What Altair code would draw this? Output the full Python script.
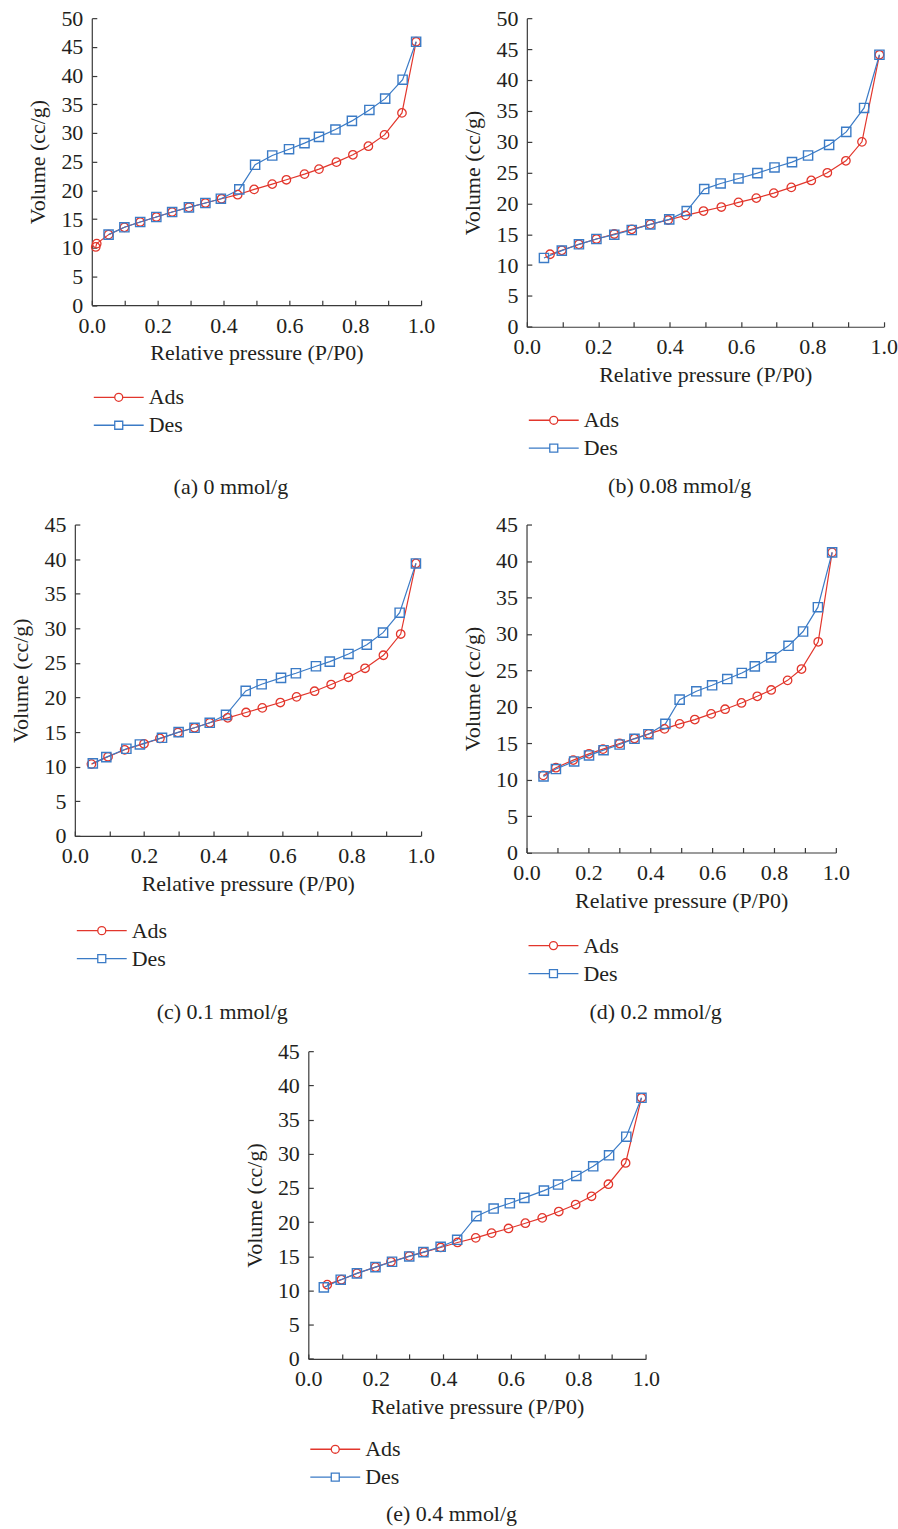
import altair as alt
import pandas as pd

# ---------------- data ----------------
A_ADS_X = [0.012, 0.015, 0.051, 0.099, 0.147, 0.196, 0.244, 0.295, 0.345, 0.394, 0.443,
           0.493, 0.548, 0.591, 0.646, 0.690, 0.743, 0.793, 0.840, 0.889, 0.942, 0.985]
A_ADS_Y = [10.14, 10.72, 12.28, 13.56, 14.48, 15.35, 16.22, 17.03, 17.79, 18.54, 19.24,
           20.16, 21.09, 21.84, 22.83, 23.70, 24.91, 26.19, 27.69, 29.66, 33.49, 45.89]
A_DES_X = [0.985, 0.944, 0.891, 0.843, 0.790, 0.740, 0.690, 0.646, 0.599, 0.548, 0.496,
           0.448, 0.392, 0.345, 0.295, 0.244, 0.196, 0.147, 0.099, 0.051]
A_DES_Y = [45.89, 39.28, 35.98, 34.01, 32.10, 30.59, 29.32, 28.22, 27.17, 26.07, 24.45,
           20.16, 18.54, 17.79, 17.03, 16.22, 15.35, 14.48, 13.56, 12.28]

B_ADS_X = [0.065, 0.098, 0.146, 0.195, 0.245, 0.294, 0.346, 0.396, 0.445, 0.495, 0.545,
           0.593, 0.643, 0.692, 0.741, 0.797, 0.842, 0.894, 0.939, 0.988]
B_ADS_Y = [11.75, 12.39, 13.36, 14.22, 15.03, 15.79, 16.59, 17.30, 18.05, 18.75, 19.40,
           20.15, 20.85, 21.66, 22.58, 23.71, 24.95, 26.89, 29.96, 44.07]
B_DES_X = [0.988, 0.945, 0.895, 0.847, 0.788, 0.743, 0.694, 0.646, 0.593, 0.543, 0.497,
           0.448, 0.399, 0.346, 0.294, 0.245, 0.195, 0.146, 0.098, 0.048]
B_DES_Y = [44.07, 35.45, 31.57, 29.47, 27.75, 26.67, 25.81, 24.89, 24.03, 23.22, 22.31,
           18.75, 17.40, 16.59, 15.68, 14.92, 14.22, 13.36, 12.34, 11.15]

C_ADS_X = [0.048, 0.096, 0.144, 0.200, 0.246, 0.298, 0.346, 0.390, 0.442, 0.495, 0.542,
           0.594, 0.641, 0.693, 0.741, 0.791, 0.839, 0.892, 0.942, 0.986]
C_ADS_Y = [10.38, 11.44, 12.45, 13.32, 14.09, 14.95, 15.63, 16.35, 17.07, 17.84, 18.51,
           19.28, 20.10, 20.91, 21.88, 22.93, 24.23, 26.11, 29.18, 39.38]
C_DES_X = [0.986, 0.939, 0.891, 0.844, 0.791, 0.737, 0.697, 0.639, 0.596, 0.540, 0.494,
           0.437, 0.390, 0.346, 0.300, 0.252, 0.188, 0.149, 0.091, 0.052]
C_DES_Y = [39.38, 32.26, 29.38, 27.64, 26.30, 25.19, 24.52, 23.51, 22.84, 21.92, 20.96,
           17.50, 16.35, 15.63, 15.00, 14.18, 13.22, 12.60, 11.39, 10.48]

D_ADS_X = [0.054, 0.095, 0.151, 0.202, 0.247, 0.301, 0.349, 0.395, 0.446, 0.495, 0.544,
           0.597, 0.642, 0.695, 0.746, 0.791, 0.844, 0.889, 0.943, 0.988]
D_ADS_Y = [10.58, 11.63, 12.68, 13.54, 14.18, 14.96, 15.64, 16.28, 16.96, 17.65, 18.24,
           19.02, 19.66, 20.52, 21.43, 22.30, 23.62, 25.17, 28.91, 41.18]
D_DES_X = [0.988, 0.942, 0.894, 0.847, 0.791, 0.738, 0.696, 0.649, 0.600, 0.549, 0.495,
           0.449, 0.394, 0.349, 0.301, 0.249, 0.202, 0.154, 0.095, 0.055]
D_DES_Y = [41.18, 33.66, 30.32, 28.36, 26.77, 25.54, 24.63, 23.80, 22.94, 22.12, 20.98,
           17.65, 16.23, 15.60, 14.82, 14.04, 13.32, 12.49, 11.45, 10.44]

E_ADS_X = [0.056, 0.098, 0.144, 0.199, 0.245, 0.299, 0.343, 0.392, 0.442, 0.496, 0.543,
           0.593, 0.643, 0.693, 0.742, 0.792, 0.839, 0.889, 0.940, 0.987]
E_ADS_Y = [10.85, 11.58, 12.50, 13.42, 14.20, 15.03, 15.61, 16.29, 17.02, 17.70, 18.39,
           19.07, 19.84, 20.62, 21.55, 22.57, 23.78, 25.54, 28.65, 38.18]
E_DES_X = [0.987, 0.942, 0.891, 0.844, 0.794, 0.740, 0.698, 0.640, 0.597, 0.549, 0.498,
           0.441, 0.392, 0.341, 0.299, 0.248, 0.199, 0.144, 0.096, 0.046]
E_DES_Y = [38.18, 32.49, 29.77, 28.16, 26.75, 25.49, 24.61, 23.54, 22.76, 21.98, 20.87,
           17.41, 16.39, 15.61, 14.98, 14.20, 13.42, 12.50, 11.58, 10.46]

SERIES = ["Ads", "Des"]
CAPTIONS = ["(a) 0 mmol/g", "(b) 0.08 mmol/g", "(c) 0.1 mmol/g", "(d) 0.2 mmol/g", "(e) 0.4 mmol/g"]
X_LABELS = [0.0, 0.2, 0.4, 0.6, 0.8, 1.0]
X_TICKS = [0.0, 0.1, 0.2, 0.3, 0.4, 0.5, 0.6, 0.7, 0.8, 0.9, 1.0]

# ---------------- style ----------------
FONT = "Liberation Serif"
TXT = "#231f20"
AXC = "#3a3a3a"
RED = "#e2362c"
BLUE = "#3b7bc6"
FS = 22

K = 0.5523
PATH_CIRCLE = ("M-6.25,0L-1,0M1,0L6.25,0"
               f"M1,0C1,{K},{K},1,0,1C-{K},1,-1,{K},-1,0C-1,-{K},-{K},-1,0,-1C{K},-1,1,-{K},1,0Z")
PATH_SQUARE = "M-6.25,0L-1,0M1,0L6.25,0M-1,-1L1,-1L1,1L-1,1Z"


def panel(ads_x, ads_y, des_x, des_y, ymax, w, h, caption, legend_y, cap_offset):
    df = pd.DataFrame({
        "p": ads_x + des_x,
        "v": ads_y + des_y,
        "s": [SERIES[0]] * len(ads_x) + [SERIES[1]] * len(des_x),
    })
    xs = alt.Scale(domain=[0, 1], nice=False, zero=False)
    ys = alt.Scale(domain=[0, ymax], nice=False)
    y_vals = list(range(0, ymax + 1, 5))

    main_x = alt.Axis(values=X_LABELS, format=".1f", ticks=False, tickSize=0, labelPadding=10,
                      labelFlush=False, labelOverlap=False,
                      title="Relative pressure (P/P0)", titlePadding=7, grid=False,
                      domainColor=AXC, domainWidth=1.2)
    main_y = alt.Axis(values=y_vals, ticks=False, tickSize=0, labelPadding=9,
                      labelFlush=False, labelOverlap=False,
                      title="Volume (cc/g)", titlePadding=11, grid=False,
                      domainColor=AXC, domainWidth=1.2)
    tick_x = alt.Axis(values=X_TICKS, labels=False, domain=False, ticks=True, tickSize=5,
                      offset=-5, orient="bottom", title=None, grid=False,
                      tickColor=AXC, tickWidth=1.2)
    tick_y = alt.Axis(values=y_vals, labels=False, domain=False, ticks=True, tickSize=5,
                      offset=-5, orient="left", title=None, grid=False,
                      tickColor=AXC, tickWidth=1.2)

    base = alt.Chart(df)
    ads = base.transform_filter(alt.datum.s == SERIES[0])
    des = base.transform_filter(alt.datum.s == SERIES[1])
    ads_line = ads.mark_line(strokeWidth=1.2, color=RED).encode(
        x=alt.X("p:Q", scale=xs, axis=main_x),
        y=alt.Y("v:Q", scale=ys, axis=main_y),
    )
    des_line = des.mark_line(strokeWidth=1.2, color=BLUE).encode(
        x=alt.X("p:Q", scale=xs, axis=None),
        y=alt.Y("v:Q", scale=ys, axis=None),
    )
    ads_pts = ads.mark_point(
        shape="circle", filled=False, size=72, strokeWidth=1.3, opacity=1, color=RED
    ).encode(
        x=alt.X("p:Q", scale=xs, axis=tick_x),
        y=alt.Y("v:Q", scale=ys, axis=tick_y),
    )
    des_pts = des.mark_point(
        shape="square", filled=False, size=85, strokeWidth=1.4, opacity=1, color=BLUE
    ).encode(
        x=alt.X("p:Q", scale=xs, axis=None),
        y=alt.Y("v:Q", scale=ys, axis=None),
    )
    leg = alt.Legend(orient="none", legendX=16, legendY=legend_y, title=None,
                     labelFont=FONT, labelFontSize=FS, labelColor=TXT, labelOffset=19,
                     symbolSize=64, symbolStrokeWidth=1.3, rowPadding=6, padding=0)
    legend_layer = base.transform_filter("false").mark_point(
        filled=False, opacity=1, strokeWidth=1.3
    ).encode(
        x=alt.X("p:Q", scale=xs, axis=None),
        y=alt.Y("v:Q", scale=ys, axis=None),
        color=alt.Color("s:N", scale=alt.Scale(domain=SERIES, range=[RED, BLUE]), legend=leg),
        shape=alt.Shape("s:N", scale=alt.Scale(domain=SERIES, range=[PATH_CIRCLE, PATH_SQUARE]),
                        legend=leg),
    )
    return alt.layer(ads_line, des_line, ads_pts, des_pts, legend_layer).resolve_axis(
        x="independent", y="independent"
    ).properties(
        width=w, height=h,
        title=alt.TitleParams(caption, orient="bottom", anchor="middle", frame="bounds",
                              offset=cap_offset, font=FONT, fontSize=FS,
                              fontWeight="normal", color=TXT),
    )


def spacer(w):
    d = pd.DataFrame({"z": [0]})
    return alt.Chart(d).mark_point(opacity=0, size=1).encode(
        x=alt.X("z:Q", axis=None, scale=alt.Scale(domain=[-1, 1])),
        y=alt.Y("z:Q", axis=None, scale=alt.Scale(domain=[-1, 1])),
    ).properties(width=w, height=2)


def indep(c):
    return c.resolve_scale(color="independent", shape="independent").resolve_legend(
        color="independent", shape="independent")


pa = panel(A_ADS_X, A_ADS_Y, A_DES_X, A_DES_Y, 50, 330, 287.6, CAPTIONS[0], 369, 41)
pb = panel(B_ADS_X, B_ADS_Y, B_DES_X, B_DES_Y, 50, 357.7, 309.3, CAPTIONS[1], 392, 17)
pc = panel(C_ADS_X, C_ADS_Y, C_DES_X, C_DES_Y, 45, 346.7, 312.1, CAPTIONS[2], 396, 33)
pd_ = panel(D_ADS_X, D_ADS_Y, D_DES_X, D_DES_Y, 45, 310, 328.7, CAPTIONS[3], 411, 18)
pe = panel(E_ADS_X, E_ADS_Y, E_DES_X, E_DES_Y, 45, 338.3, 308.4, CAPTIONS[4], 388, 16)

row1 = indep(alt.hconcat(spacer(26.7), indep(alt.hconcat(pa, pb, spacing=27)), spacing=0))
row2 = indep(alt.hconcat(spacer(9.7), indep(alt.hconcat(pc, pd_, spacing=26.7)), spacing=0))
row3 = indep(alt.hconcat(spacer(243.7), pe, spacing=0))

top = indep(alt.concat(row1, row2, columns=1, spacing=15.5, align="none"))
chart = indep(alt.concat(top, row3, columns=1, spacing=16.3, align="none")).properties(
    padding={"left": 0, "top": 5.5, "right": 0, "bottom": 0},
    background="white",
).configure_view(stroke=None).configure_axis(
    labelFont=FONT, labelFontSize=FS, labelColor=TXT,
    titleFont=FONT, titleFontSize=FS, titleColor=TXT, titleFontWeight="normal",
).configure_legend(labelFont=FONT)

chart.save("out.html", embed_options={"renderer": "svg", "actions": False})
